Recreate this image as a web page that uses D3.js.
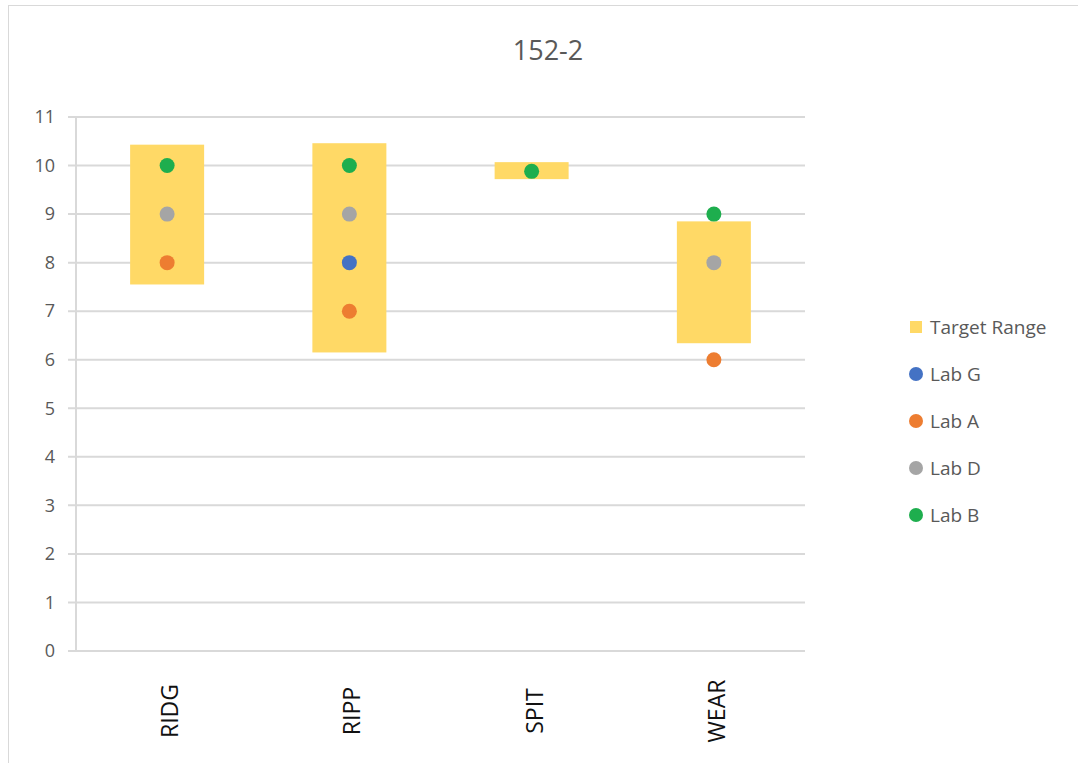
<!DOCTYPE html>
<html>
<head>
<meta charset="utf-8">
<script src="https://cdn.jsdelivr.net/npm/d3@7"></script>
<style>
body { margin: 0; background: #fff; }
text { font-family: "Open Sans", sans-serif; }
</style>
</head>
<body>
<div id="chart"></div>
<script>
// data
const categories = ["RIDG", "RIPP", "SPIT", "WEAR"];
const rangeLow = [7.55, 6.15, 9.72, 6.34];
const rangeHigh = [10.43, 10.46, 10.07, 8.85];
const labG = [null, 8, null, null];
const labA = [8, 7, null, 6];
const labD = [9, 9, null, 8];
const labB = [10, 10, 9.88, 9];
const yTicks = [0, 1, 2, 3, 4, 5, 6, 7, 8, 9, 10, 11];

const series = [
    { name: "Lab G", values: labG, color: "#4472C4" },
    { name: "Lab A", values: labA, color: "#ED7D31" },
    { name: "Lab D", values: labD, color: "#A5A5A5" },
    { name: "Lab B", values: labB, color: "#1EAE4E" }
];

const width = 1078, height = 763;
const svg = d3.select("#chart").append("svg")
    .attr("width", width).attr("height", height);

svg.append("rect")
    .attr("x", 8.5).attr("y", 5.5)
    .attr("width", 1080).attr("height", 760)
    .attr("fill", "#fff").attr("stroke", "#d9d9d9");

let x = d3.scaleBand().domain(categories).range([76, 805]);
let y = d3.scaleLinear().domain([0, 11]).range([651, 117]);

// grid
svg.append("g").selectAll("line").data(yTicks).join("line")
    .attr("x1", 68).attr("x2", 805)
    .attr("y1", d => y(d)).attr("y2", d => y(d))
    .attr("stroke", "#d9d9d9").attr("stroke-width", 2);
svg.append("line")
    .attr("x1", 76).attr("x2", 76).attr("y1", y(11)).attr("y2", y(0))
    .attr("stroke", "#d9d9d9").attr("stroke-width", 2);

// y labels
svg.append("g").selectAll("text").data(yTicks).join("text")
    .attr("x", 55).attr("y", d => y(d))
    .attr("dy", "0.35em")
    .attr("text-anchor", "end")
    .attr("font-size", 18)
    .attr("fill", "#595959")
    .text(d => d);

// target ranges
const barW = 74;
svg.append("g").selectAll("rect").data(categories).join("rect")
    .attr("x", d => x(d) + x.bandwidth() / 2 - barW / 2)
    .attr("width", barW)
    .attr("y", (d, i) => y(rangeHigh[i]))
    .attr("height", (d, i) => y(rangeLow[i]) - y(rangeHigh[i]))
    .attr("fill", "#FFD966");

// points
series.forEach(s => {
    svg.append("g").selectAll("circle")
        .data(categories.map((c, i) => ({ c: c, v: s.values[i] })).filter(d => d.v != null))
        .join("circle")
        .attr("cx", d => x(d.c) + x.bandwidth() / 2)
        .attr("cy", d => y(d.v))
        .attr("r", 7.5)
        .attr("fill", s.color);
});

// x labels
svg.append("g").selectAll("text").data(categories).join("text")
    .attr("transform", d => "translate(" + (x(d) + x.bandwidth() / 2 + 11) + ",711) rotate(-90)")
    .attr("text-anchor", "middle")
    .attr("font-size", 23)
    .attr("fill", "#111")
    .text(d => d);

// title
svg.append("text")
    .attr("x", 548).attr("y", 60)
    .attr("text-anchor", "middle")
    .attr("font-size", 27)
    .attr("fill", "#595959")
    .text("152-2");

// legend
const legend = [{ name: "Target Range", color: "#FFD966", square: true }].concat(series);
const lg = svg.append("g").selectAll("g").data(legend).join("g")
    .attr("transform", (d, i) => "translate(916," + (327 + i * 47) + ")");
lg.filter(d => d.square).append("rect")
    .attr("x", -6).attr("y", -6).attr("width", 12).attr("height", 12)
    .attr("fill", d => d.color);
lg.filter(d => !d.square).append("circle")
    .attr("r", 7).attr("fill", d => d.color);
lg.append("text")
    .attr("x", 14).attr("dy", "0.35em")
    .attr("font-size", 19)
    .attr("fill", "#595959")
    .text(d => d.name);
</script>
</body>
</html>
